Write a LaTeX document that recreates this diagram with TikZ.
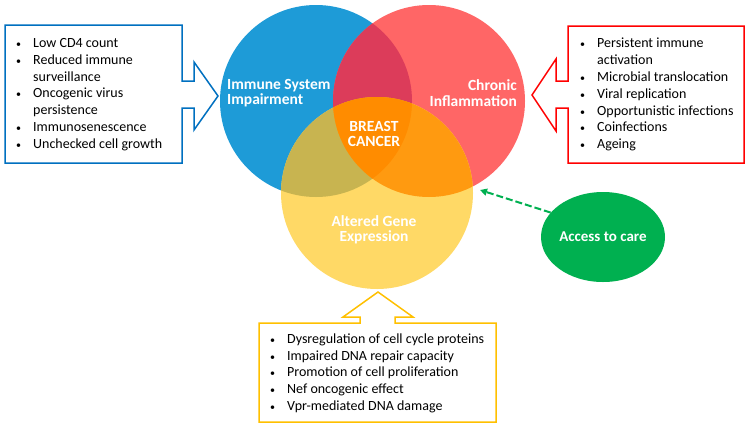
\documentclass[tikz,border=0pt]{standalone}
\usepackage{xcolor}
\usepackage{fontspec}
\setmainfont{Carlito}
\usepackage{tikz}
\usetikzlibrary{positioning,shapes.geometric,arrows.meta}

\definecolor{immblue}{HTML}{1E9BD7}
\definecolor{infred}{HTML}{FF6666}
\definecolor{geneyel}{HTML}{FFD966}
\definecolor{brmix}{HTML}{DC3C5A}
\definecolor{bymix}{HTML}{C8B450}
\definecolor{rymix}{HTML}{FF9A10}
\definecolor{allmix}{HTML}{FF8C00}
\definecolor{boxblue}{HTML}{0070C0}
\definecolor{boxred}{HTML}{FF0000}
\definecolor{boxgold}{HTML}{FFC000}
\definecolor{caregreen}{HTML}{00B050}

\newcommand{\blob}{{\fontsize{10}{10}\selectfont\textbullet}}

\begin{document}
\begin{tikzpicture}[x=1pt,y=-1pt]

\tikzstyle{every node}=[font=\fontsize{14}{16.8}\selectfont]
\tikzstyle{venn label}=[text=white, font=\fontsize{15.5}{15.5}\selectfont\bfseries, inner sep=0]
\tikzstyle{list}=[inner sep=0, anchor=west]
\tikzstyle{callout}=[line width=1.5pt, fill=white, line join=miter]

\useasboundingbox (0,0) rectangle (749,426);

% circles %
\def\cblue{(316,101) circle (96)}
\def\cred{(429,101) circle (96)}
\def\cyel{(377,193) circle (96)}
\fill[immblue] \cblue;
\fill[infred] \cred;
\fill[geneyel] \cyel;
\begin{scope}
  \clip \cblue;
  \fill[brmix] \cred;
  \fill[bymix] \cyel;
\end{scope}
\begin{scope}
  \clip \cred;
  \fill[rymix] \cyel;
  \clip \cblue;
  \fill[allmix] \cyel;
\end{scope}

% labels %
\node[venn label, align=left, anchor=west] (imm) at (227,93) {Immune System\\Impairment};
\node[venn label, align=right, anchor=east] (inf) at (517,93) {Chronic\\Inflammation};
\node[venn label, align=center] (bc) at (374,134) {BREAST\\CANCER};
\node[venn label, align=center] (gene) at (374,230) {Altered Gene\\Expression};

% boxes %
\draw[callout, draw=boxblue] (5,25) -- (182,25) -- (182,81) -- (194,81) -- (194,62)
  -- (218,96) -- (194,130) -- (194,108) -- (182,108) -- (182,163) -- (5,163) -- cycle;
\draw[callout, draw=boxred] (744,26) -- (568,26) -- (568,81) -- (556,81) -- (556,59)
  -- (532,95) -- (556,131) -- (556,108) -- (568,108) -- (568,163) -- (744,163) -- cycle;
\draw[callout, draw=boxgold] (259,323) -- (360,323) -- (360,317) -- (343,317) -- (378,292)
  -- (413,317) -- (395,317) -- (395,323) -- (496,323) -- (496,422) -- (259,422) -- cycle;

\node[list] (immlist) at (16,94.5) {%
  \begin{tabular}{@{}l@{\hspace{12pt}}l@{}}
  \blob & Low CD4 count\\
  \blob & Reduced immune\\
        & surveillance\\
  \blob & Oncogenic virus\\
        & persistence\\
  \blob & Immunosenescence\\
  \blob & Unchecked cell growth
  \end{tabular}};
\node[list] (inflist) at (580,95) {%
  \begin{tabular}{@{}l@{\hspace{12pt}}l@{}}
  \blob & Persistent immune\\
        & activation\\
  \blob & Microbial translocation\\
  \blob & Viral replication\\
  \blob & Opportunistic infections\\
  \blob & Coinfections\\
  \blob & Ageing
  \end{tabular}};
\node[list] (genelist) at (270,373.5) {%
  \begin{tabular}{@{}l@{\hspace{12pt}}l@{}}
  \blob & Dysregulation of cell cycle proteins\\
  \blob & Impaired DNA repair capacity\\
  \blob & Promotion of cell proliferation\\
  \blob & Nef oncogenic effect\\
  \blob & Vpr-mediated DNA damage
  \end{tabular}};

% access to care %
\node[ellipse, fill=caregreen, minimum width=124, minimum height=90, inner sep=0,
  text=white, font=\fontsize{15}{15}\selectfont\bfseries] (care) at (603,237) {Access to care};
\coordinate (tip) at (480,190);

% edges %
\draw[caregreen, line width=2pt, dash pattern=on 7pt off 3pt,
  -{Triangle[length=7pt,width=7pt]}] (care.155) -- (tip);

\end{tikzpicture}
\end{document}
